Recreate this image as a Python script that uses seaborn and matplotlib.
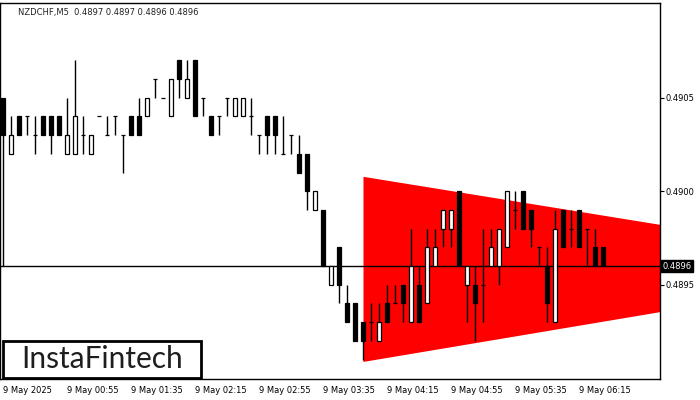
import matplotlib
matplotlib.use('Agg')

import pandas as pd

import matplotlib.pyplot as plt
from matplotlib.patches import Rectangle

import seaborn as sns

TITLE = 'NZDCHF,M5  0.4897 0.4897 0.4896 0.4896'
LAST_PRICE = 0.4896

# 5 minute candles from 00:15 to 06:30
opens = [0.4905, 0.4902, 0.4904, 0.4904, 0.4903, 0.4904, 0.4904, 0.4904, 0.4902, 0.4902,
         0.4903, 0.4902, 0.4904, 0.4903, 0.4904, 0.4903, 0.4904, 0.4904, 0.4904, 0.4906,
         0.4905, 0.4904, 0.4907, 0.4905, 0.4907, 0.4905, 0.4904, 0.4904, 0.4905, 0.4904,
         0.4904, 0.4904, 0.4903, 0.4904, 0.4904, 0.4902, 0.4903, 0.4902, 0.4902, 0.4899,
         0.4899, 0.4895, 0.4897, 0.4894, 0.4894, 0.4893, 0.4893, 0.4892, 0.4894, 0.4894,
         0.4895, 0.4893, 0.4895, 0.4894, 0.4896, 0.4898, 0.4898, 0.4900, 0.4895, 0.4895,
         0.4895, 0.4896, 0.4896, 0.4897, 0.4899, 0.4900, 0.4899, 0.4897, 0.4896, 0.4893,
         0.4899, 0.4898, 0.4899, 0.4898, 0.4897, 0.4897]
highs = [0.4905, 0.4904, 0.4904, 0.4904, 0.4904, 0.4904, 0.4904, 0.4904, 0.4905, 0.4907,
         0.4904, 0.4903, 0.4904, 0.4904, 0.4904, 0.4903, 0.4904, 0.4905, 0.4905, 0.4906,
         0.4905, 0.4906, 0.4907, 0.4907, 0.4907, 0.4905, 0.4904, 0.4904, 0.4905, 0.4905,
         0.4905, 0.4905, 0.4903, 0.4904, 0.4904, 0.4904, 0.4903, 0.4903, 0.4902, 0.4900,
         0.4899, 0.4896, 0.4897, 0.4895, 0.4894, 0.4893, 0.4894, 0.4894, 0.4895, 0.4895,
         0.4895, 0.4898, 0.4896, 0.4898, 0.4898, 0.4899, 0.4899, 0.4900, 0.4896, 0.4896,
         0.4898, 0.4898, 0.4898, 0.4900, 0.4900, 0.4900, 0.4899, 0.4897, 0.4897, 0.4899,
         0.4899, 0.4899, 0.4899, 0.4898, 0.4898, 0.4897]
lows = [0.4896, 0.4902, 0.4903, 0.4903, 0.4902, 0.4903, 0.4902, 0.4903, 0.4902, 0.4902,
        0.4902, 0.4902, 0.4904, 0.4903, 0.4903, 0.4901, 0.4903, 0.4903, 0.4904, 0.4905,
        0.4905, 0.4904, 0.4905, 0.4905, 0.4904, 0.4904, 0.4903, 0.4903, 0.4904, 0.4904,
        0.4904, 0.4903, 0.4902, 0.4902, 0.4902, 0.4902, 0.4902, 0.4901, 0.4899, 0.4899,
        0.4896, 0.4895, 0.4894, 0.4893, 0.4892, 0.4891, 0.4892, 0.4892, 0.4893, 0.4894,
        0.4893, 0.4893, 0.4893, 0.4894, 0.4896, 0.4897, 0.4897, 0.4896, 0.4893, 0.4892,
        0.4893, 0.4896, 0.4895, 0.4897, 0.4898, 0.4898, 0.4897, 0.4896, 0.4893, 0.4893,
        0.4897, 0.4897, 0.4897, 0.4896, 0.4896, 0.4896]
closes = [0.4903, 0.4903, 0.4903, 0.4904, 0.4903, 0.4903, 0.4903, 0.4903, 0.4903, 0.4904,
          0.4903, 0.4903, 0.4904, 0.4903, 0.4904, 0.4903, 0.4903, 0.4903, 0.4905, 0.4906,
          0.4905, 0.4906, 0.4906, 0.4906, 0.4904, 0.4905, 0.4903, 0.4904, 0.4905, 0.4905,
          0.4905, 0.4904, 0.4903, 0.4903, 0.4903, 0.4902, 0.4903, 0.4901, 0.4900, 0.4900,
          0.4896, 0.4896, 0.4895, 0.4893, 0.4892, 0.4892, 0.4893, 0.4893, 0.4893, 0.4894,
          0.4894, 0.4896, 0.4893, 0.4897, 0.4897, 0.4899, 0.4899, 0.4896, 0.4896, 0.4894,
          0.4895, 0.4897, 0.4898, 0.4900, 0.4899, 0.4898, 0.4898, 0.4897, 0.4894, 0.4898,
          0.4897, 0.4898, 0.4897, 0.4898, 0.4896, 0.4896]

# symmetrical triangle (candle index, upper bound, lower bound)
pattern_x = [45, 84]
pattern_top = [0.49008, 0.48981]
pattern_bottom = [0.48909, 0.48937]

x_tick_labels = ['9 May 2025', '9 May 00:55', '9 May 01:35', '9 May 02:15',
                 '9 May 02:55', '9 May 03:35', '9 May 04:15', '9 May 04:55',
                 '9 May 05:35', '9 May 06:15']
y_ticks = [0.4895, 0.4900, 0.4905]


def build_frame():
    df = pd.DataFrame({'open': opens, 'high': highs, 'low': lows, 'close': closes})
    df['time'] = pd.date_range('2025-05-09 00:15', periods=len(df), freq='5min')
    df['idx'] = range(len(df))
    df['bull'] = df['close'] > df['open']
    return df


def candles(ax, df):
    ax.vlines(df['idx'], df['low'], df['high'], color='black', lw=1, zorder=3)
    colors = ['white' if b else 'black' for b in df['bull']]
    ax.bar(df['idx'], df['close'] - df['open'], bottom=df['open'], width=0.55,
           color=colors, edgecolor='black', linewidth=0.9, zorder=4)


def main():
    sns.set_theme(style='white')
    plt.rcParams['font.family'] = ['DejaVu Sans']
    df = build_frame()

    fig = plt.figure(figsize=(7, 4), dpi=100)
    ax = fig.add_axes([0.0, 0.0525, 660 / 700, 0.94])

    ax.fill_between(pattern_x, pattern_top, pattern_bottom, color='#ff0000',
                    lw=0, zorder=1)
    ax.axhline(LAST_PRICE, color='black', lw=1, zorder=2)
    candles(ax, df)

    ax.set_xlim(-0.375, 82.125)
    ax.set_ylim(0.488996, 0.491007)

    ax.set_xticks(df['idx'][::8])
    ax.set_xticklabels(x_tick_labels, fontsize=6, ha='left')
    ax.yaxis.tick_right()
    ax.set_yticks(y_ticks)
    ax.set_yticklabels(['%.4f' % v for v in y_ticks], fontsize=6)
    ax.tick_params(axis='both', direction='out', length=3, width=0.8,
                   colors='black', pad=1)
    ax.tick_params(axis='x', pad=2)
    for s in ax.spines.values():
        s.set_color('black')
        s.set_linewidth(1)

    ax.text(0.027, 0.975, TITLE, transform=ax.transAxes, fontsize=6,
            color='#222222', va='center', ha='left')

    ax.text(1.004, LAST_PRICE, '%.4f' % LAST_PRICE, transform=ax.get_yaxis_transform(),
            fontsize=6, color='white', va='center', ha='left', zorder=6,
            bbox=dict(boxstyle='square,pad=0.15', fc='black', ec='black'))

    fig.add_artist(Rectangle((3 / 700, 22 / 400), 198 / 700, 37 / 400,
                             transform=fig.transFigure, facecolor='white',
                             edgecolor='black', lw=2, zorder=10))
    fig.text(102 / 700, 40.5 / 400, 'InstaFintech', fontsize=21.5, color='#1e1e1e',
             family='Lato', ha='center', va='center', zorder=11)

    fig.savefig('out.png', dpi=100, facecolor='white')


if __name__ == '__main__':
    main()
